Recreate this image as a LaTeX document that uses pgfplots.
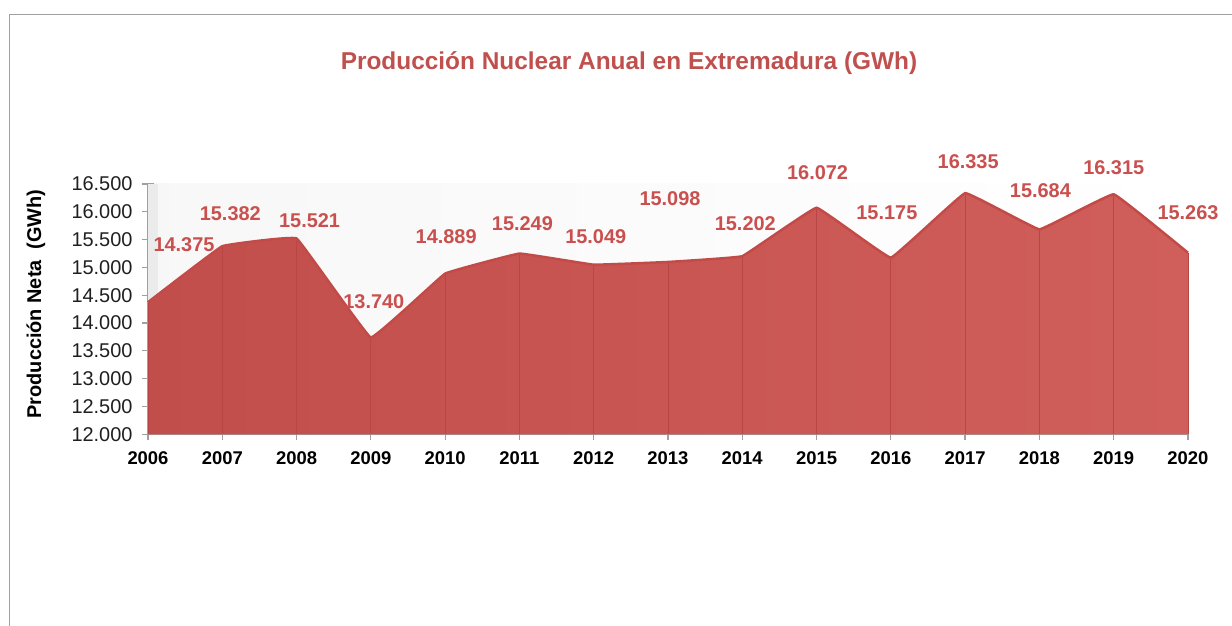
\documentclass[border=0pt]{standalone}
\usepackage{pgfplots}
\pgfplotsset{compat=1.18}
\usepackage{pgfplotstable}
\usepackage{fontspec}
\setmainfont{Liberation Sans}
\definecolor{tit}{HTML}{C0504D}
\definecolor{lab}{HTML}{C9504E}
\definecolor{areaL}{HTML}{C24E4B}
\definecolor{areaR}{HTML}{D05E5B}
\definecolor{edge}{HTML}{C24B48}
\definecolor{vline}{HTML}{B84645}
\definecolor{axgray}{HTML}{A0A0A0}

\pgfplotstableread{
year val dx dy lbl
2006 14375 36 58 14.375
2007 15382 8 33 15.382
2008 15521 13 18 15.521
2009 13740 3 36 13.740
2010 14889 1 37 14.889
2011 15249 3 30 15.249
2012 15049 2 28 15.049
2013 15098 2 63 15.098
2014 15202 3 33 15.202
2015 16072 1 35 16.072
2016 15175 -4 45 15.175
2017 16335 3 32 16.335
2018 15684 1 39 15.684
2019 16315 0 27 16.315
2020 15263 0 40 15.263
}\datatable

\begin{document}
\begin{tikzpicture}[x=1bp,y=1bp]
\useasboundingbox (0,0) rectangle (1232,626);
\draw[axgray, line width=1.3bp] (9.5,0) -- (9.5,611.5) -- (1232,611.5);
\node[font=\fontsize{24.5}{28}\selectfont\bfseries, text=tit] at (629,563) {Producción Nuclear Anual en Extremadura (GWh)};
\node[rotate=90, font=\fontsize{20}{23}\selectfont\bfseries] at (36,322) {Producción Neta\ \ (GWh)};
\begin{axis}[
  at={(148bp,191.7bp)}, anchor=south west,
  width=1040bp, height=250.3bp, scale only axis,
  xmin=2006, xmax=2020, ymin=12000, ymax=16500,
  clip=false,
  axis x line=bottom, axis y line=left,
  axis line style={axgray, line width=1.3bp, -},
  xtick={2006,...,2020}, ytick={12000,12500,...,16500},
  scaled y ticks=false,
  tick align=center, major tick length=12bp,
  tick style={axgray, line width=1.2bp},
  xticklabel style={font=\fontsize{18.5}{20}\selectfont\bfseries, yshift=-8bp, /pgf/number format/1000 sep={}},
  yticklabel style={font=\fontsize{20}{22}\selectfont, text=black!88, xshift=-6bp,
    /pgf/number format/.cd, fixed, precision=0, 1000 sep={.}},
  /pgf/number format/assume math mode=true,
  axis background/.style={left color=black!3, right color=white},
]
\fill[black!8] (rel axis cs:0,0) rectangle ([xshift=10bp]rel axis cs:0,1);
\addplot[draw=none, left color=areaL, right color=areaR, smooth, tension=0.1]
  table[x=year, y=val] {\datatable} |- (axis cs:2006,12000) -- cycle;
\addplot[draw=none, error bars/.cd, y dir=minus, y explicit,
  error bar style={vline, line width=0.9bp}, error mark=none]
  table[x=year, y=val, y error expr=\thisrow{val}-12000] {\datatable};
\addplot[edge, line width=2.5bp, smooth, tension=0.1] table[x=year, y=val] {\datatable};
\addplot[draw=none, point meta=explicit symbolic,
  visualization depends on={\thisrow{dx} \as \dx},
  visualization depends on={\thisrow{dy} \as \dy},
  nodes near coords,
  every node near coord/.append style={anchor=center, xshift=\dx bp, yshift=\dy bp,
    font=\fontsize{20}{22}\selectfont\bfseries, text=lab}]
  table[x=year, y=val, meta=lbl] {\datatable};
\end{axis}
\end{tikzpicture}
\end{document}
